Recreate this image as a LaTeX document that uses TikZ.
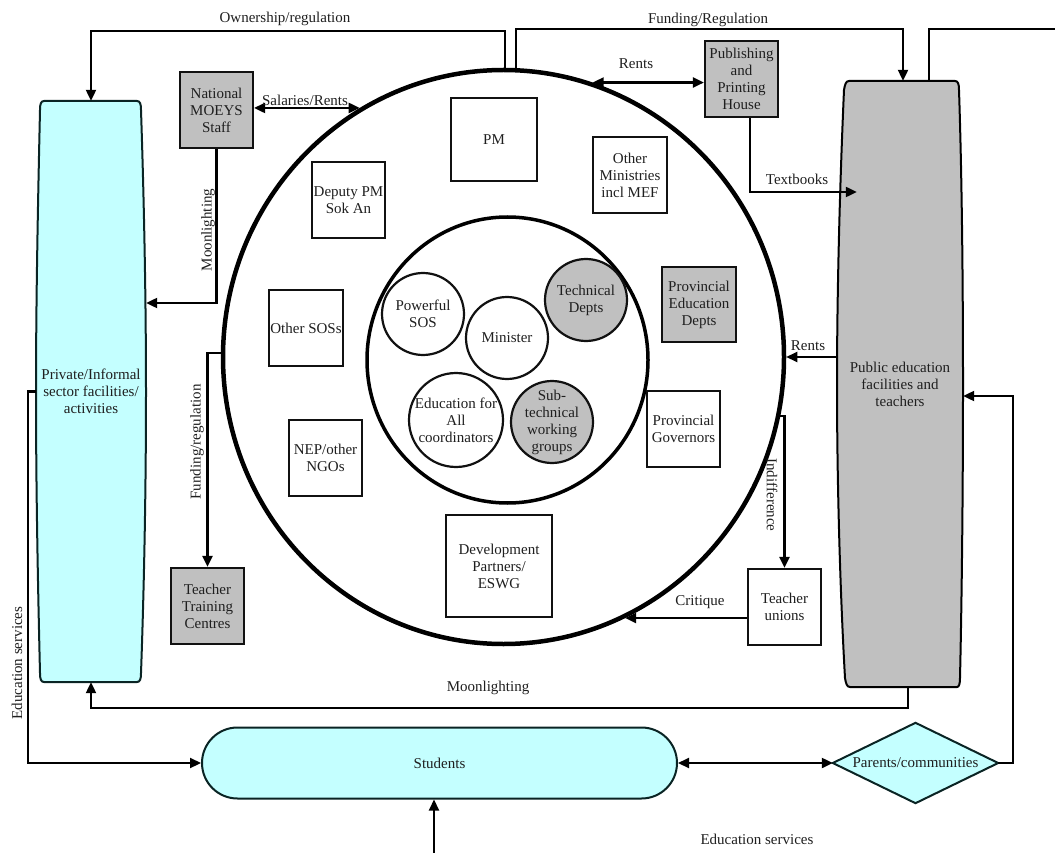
\documentclass[tikz,border=0pt]{standalone}
\usepackage{fontspec}
\setmainfont{Liberation Serif}
\usetikzlibrary{arrows.meta,shapes.geometric,shapes.misc}
\definecolor{cyanfill}{HTML}{C4FFFF}
\definecolor{grayfill}{HTML}{C0C0C0}
\definecolor{edgecol}{HTML}{111111}
\definecolor{tealedge}{HTML}{0A2424}
\begin{document}
\begin{tikzpicture}[x=1pt,y=-1pt,
  every node/.style={font=\fontsize{15}{17}\selectfont, text=black!88},
  box/.style={draw=edgecol, line width=2.2pt, minimum width=73pt, minimum height=76pt, align=center, inner sep=1pt},
  graybox/.style={box, fill=grayfill},
  smallc/.style={circle, draw=edgecol, line width=2.2pt, minimum size=82pt, inner sep=0pt},
  ctext/.style={align=center, inner sep=0pt},
  conn/.style={line width=2.2pt, draw=black},
  arr/.style={conn, -{Triangle[length=11pt,width=10pt]}},
  darr/.style={conn, {Triangle[length=11pt,width=10pt]}-{Triangle[length=11pt,width=10pt]}},
  lbl/.style={inner sep=1pt},
]
\fill[white] (0,0) rectangle (1055,853);
\useasboundingbox (0,0) rectangle (1055,853);

% big circles
\node[ellipse, draw=black, line width=4.5pt, minimum width=561pt, minimum height=574pt, inner sep=0pt] (outer) at (503.5,357) {};
\node[ellipse, draw=black, line width=3.5pt, minimum width=281pt, minimum height=286pt, inner sep=0pt] (inner) at (507.5,360) {};

% small circles
\node[smallc] (psos) at (423,314) {};
\node[ctext] (psosT) at (psos) {Powerful\\SOS};
\node[smallc] (min) at (507,338) {};
\node[ctext] (minT) at (min) {Minister};
\node[smallc, fill=grayfill] (tech) at (586,300) {};
\node[ctext] (techT) at (tech) {Technical\\Depts};
\node[smallc, minimum size=94pt] (efa) at (456,420) {};
\node[ctext] (efaT) at (efa) {Education for\\All\\coordinators};
\node[smallc, fill=grayfill] (stwg) at (552,422) {};
\node[ctext] (stwgT) at (stwg) {Sub-\\technical\\working\\groups};

% boxes
\node[graybox] (moeys) at (216.5,110) {National\\MOEYS\\Staff};
\node[box, minimum width=86pt, minimum height=83pt] (pm) at (494,139.5) {PM};
\node[box] (dpm) at (348.5,200) {Deputy PM\\Sok An};
\node[box, minimum width=74pt] (om) at (630,175) {Other\\Ministries\\incl MEF};
\node[graybox] (ph) at (741.5,79) {Publishing\\and\\Printing\\House};
\node[graybox, minimum width=74pt, minimum height=75pt] (ped) at (699,304.5) {Provincial\\Education\\Depts};
\node[box, minimum width=74pt] (osos) at (306,328) {Other SOSs};
\node[box] (nep) at (325.5,458) {NEP/other\\NGOs};
\node[box, minimum width=106pt, minimum height=102pt] (dp) at (499,566) {Development\\Partners/\\ESWG};
\node[box] (pg) at (683.5,429) {Provincial\\Governors};
\node[box] (tu) at (784.5,607) {Teacher\\unions};
\node[graybox] (ttc) at (207.5,606) {Teacher\\Training\\Centres};

% private barrel
\node[minimum width=110pt, minimum height=581pt, inner sep=0pt] (priv) at (91,391.5) {};
\filldraw[fill=cyanfill, draw=tealedge, line width=2pt]
  (44,101) -- (137,101) .. controls (140,101) and (141,104) .. (141,110)
  .. controls (144,200) and (146,300) .. (146,392)
  .. controls (146,490) and (144,590) .. (141,673)
  .. controls (141,679) and (140,682) .. (137,682) -- (44,682)
  .. controls (41,682) and (40,679) .. (40,673)
  .. controls (38,590) and (36,490) .. (36,392)
  .. controls (36,300) and (38,200) .. (40,110)
  .. controls (40,104) and (41,101) .. (44,101) -- cycle;
\node[ctext] (privT) at (priv) {Private/Informal\\sector facilities/\\activities};

% public barrel
\node[minimum width=126pt, minimum height=606pt, inner sep=0pt] (pub) at (900,384) {};
\filldraw[fill=grayfill, draw=black, line width=2pt]
  (849,81) -- (955,81) .. controls (958,81) and (959,84) .. (959,90)
  .. controls (962,180) and (963,290) .. (963,384)
  .. controls (963,480) and (962,590) .. (960,678)
  .. controls (960,684) and (959,687) .. (957,687) -- (850,687)
  .. controls (847,687) and (846,684) .. (845,678)
  .. controls (840,590) and (837,480) .. (837,384)
  .. controls (837,290) and (840,180) .. (844,90)
  .. controls (845,84) and (846,81) .. (849,81) -- cycle;
\node[ctext] (pubT) at (pub) {Public education\\facilities and\\teachers};

% students and parents
\node[rounded rectangle, draw=tealedge, fill=cyanfill, line width=2pt, minimum width=475pt, minimum height=71pt, inner sep=0pt] (stu) at (439.5,763) {Students};
\node[minimum width=165pt, minimum height=80pt, inner sep=0pt] (par) at (915.5,763) {};
\filldraw[fill=cyanfill, draw=tealedge, line width=2pt, line join=miter] (par.north) -- (par.east) -- (par.south) -- (par.west) -- cycle;
\node[ctext] (parT) at (par) {Parents/communities};

% free end coordinates
\coordinate (edgeTR) at (1056,29);
\coordinate (botIn) at (434,856);

% connectors
\draw[arr] ([xshift=1.5pt]outer.north) -- ++(0,-37) -| (priv.north);
\draw[arr] ([xshift=12.5pt]outer.north) -- ++(0,-39) -| ([xshift=3pt]pub.north);
\draw[conn] ([xshift=29pt]pub.north) |- (edgeTR);
\draw[darr] (moeys.east |- outer.120.3) -- (outer.120.3);
\draw[darr] (outer.72.7) -- (outer.72.7 -| ph.west);
\draw[arr] ([xshift=8.5pt]ph.south) |- ([xshift=20pt,yshift=192pt]pub.west);
\draw[arr] (moeys.south) |- ([yshift=88.5pt]priv.east);
\draw[arr] ([yshift=4pt]outer.west) -| (ttc.north);
\draw[arr] (outer.east -| pub.west) -- (outer.east);
\draw[arr] (par.east) -- ++(15,0) |- ([yshift=-12pt]pub.east);
\draw[arr] (outer.-12.55) -| (tu.north);
\draw[arr] (tu.west |- outer.-65) -- (outer.-65);
\draw[arr] ([xshift=8pt]pub.south) -- ++(0,21) -| (priv.south);
\draw[arr] (priv.west) -- ++(-8,0) |- (stu.west);
\draw[darr] (stu.east) -- (par.west);
\draw[arr] (botIn) -- (botIn |- stu.south);

% labels
\node[lbl] (lOwn) at (285,19) {Ownership/regulation};
\node[lbl] (lFund) at (708,20) {Funding/Regulation};
\node[lbl] (lSal) at (305,100) {Salaries/Rents};
\node[lbl] (lRentT) at (636,64) {Rents};
\node[lbl] (lText) at (797,179) {Textbooks};
\node[lbl, rotate=90] (lMoonV) at (208,230) {Moonlighting};
\node[lbl, rotate=90] (lFundV) at (197,442) {Funding/regulation};
\node[lbl] (lRentR) at (808,346) {Rents};
\node[lbl, rotate=-90] (lInd) at (772,495) {Indifference};
\node[lbl] (lCrit) at (700,602) {Critique};
\node[lbl] (lMoonB) at (488,688) {Moonlighting};
\node[lbl, rotate=90] (lEduL) at (17,663) {Education services};
\node[lbl] (lEduB) at (757,839) {Education services};
\end{tikzpicture}
\end{document}
